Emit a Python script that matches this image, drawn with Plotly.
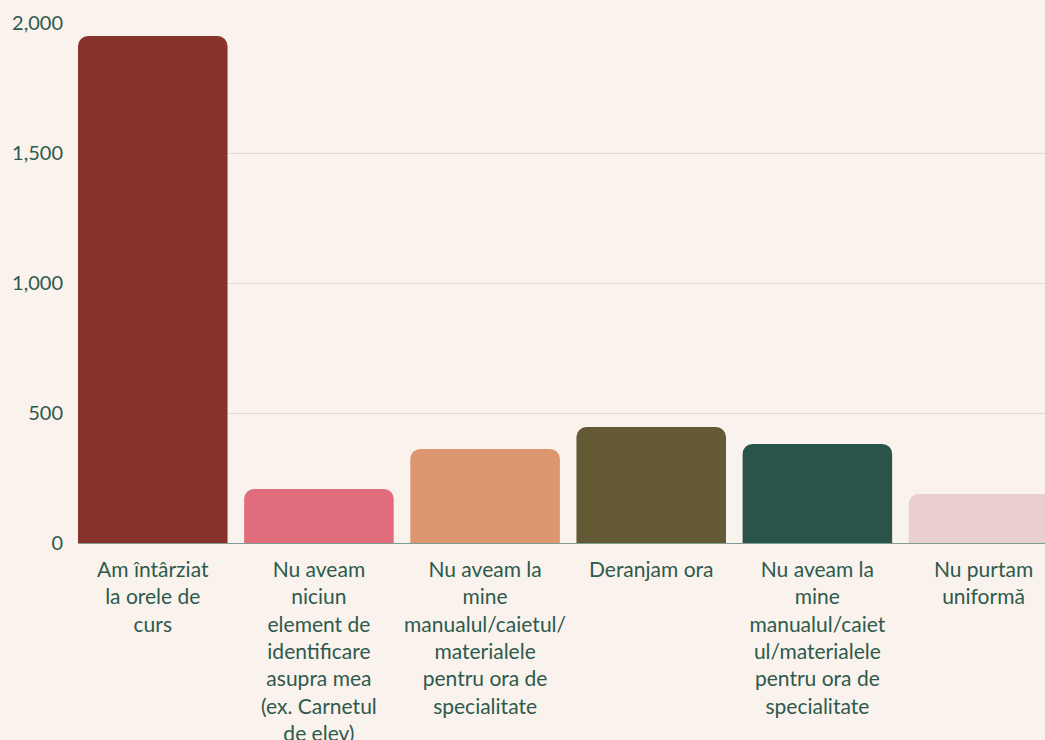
import plotly.graph_objects as go

categories = [
    "Am întârziat<br>la orele de<br>curs",
    "Nu aveam<br>niciun<br>element de<br>identificare<br>asupra mea<br>(ex. Carnetul<br>de elev)",
    "Nu aveam la<br>mine<br>manualul/caietul/<br>materialele<br>pentru ora de<br>specialitate",
    "Deranjam ora",
    "Nu aveam la<br>mine<br>manualul/caiet<br>ul/materialele<br>pentru ora de<br>specialitate",
    "Nu purtam<br>uniformă",
]
values = [1950, 208, 362, 446, 381, 188]
colors = ["#87332c", "#e06c7c", "#dc9670", "#635a35", "#2a5449", "#eacfd1"]
y_ticks = [0, 500, 1000, 1500, 2000]

BG = "#faf2ec"
TEXT = "#2d5a4c"

fig = go.Figure(go.Bar(
    x=list(range(len(values))),
    y=values,
    marker_color=colors,
    marker_line_width=0,
))

fig.update_layout(
    width=1045,
    height=740,
    paper_bgcolor=BG,
    plot_bgcolor=BG,
    bargap=0.1,
    barcornerradius=10,
    showlegend=False,
    font=dict(family="Lato, sans-serif", size=20, color=TEXT),
    margin=dict(l=78, r=0, t=23, b=197, autoexpand=False),
    xaxis=dict(
        tickmode="array",
        tickvals=list(range(len(values))),
        ticktext=categories,
        tickfont=dict(size=21),
        range=[-0.45, 5.37],  # last category runs off the right edge
        showgrid=False,
        ticks="",
        showline=False,
        zeroline=False,
        automargin=False,
        ticklabelstandoff=12,
    ),
    yaxis=dict(
        range=[0, 2000],
        tickvals=y_ticks,
        tickformat=",",
        gridcolor="#d8dcd5",
        gridwidth=1,
        zeroline=True,
        zerolinecolor="#7f9d93",
        zerolinewidth=1,
        ticks="",
        automargin=False,
        ticklabelstandoff=14,
    ),
)

# page has a default 8px body margin; drop it so the chart fills the window
fig.write_html(
    "out.html",
    config={"displayModeBar": False},
    post_script="document.body.style.margin='0';",
)
